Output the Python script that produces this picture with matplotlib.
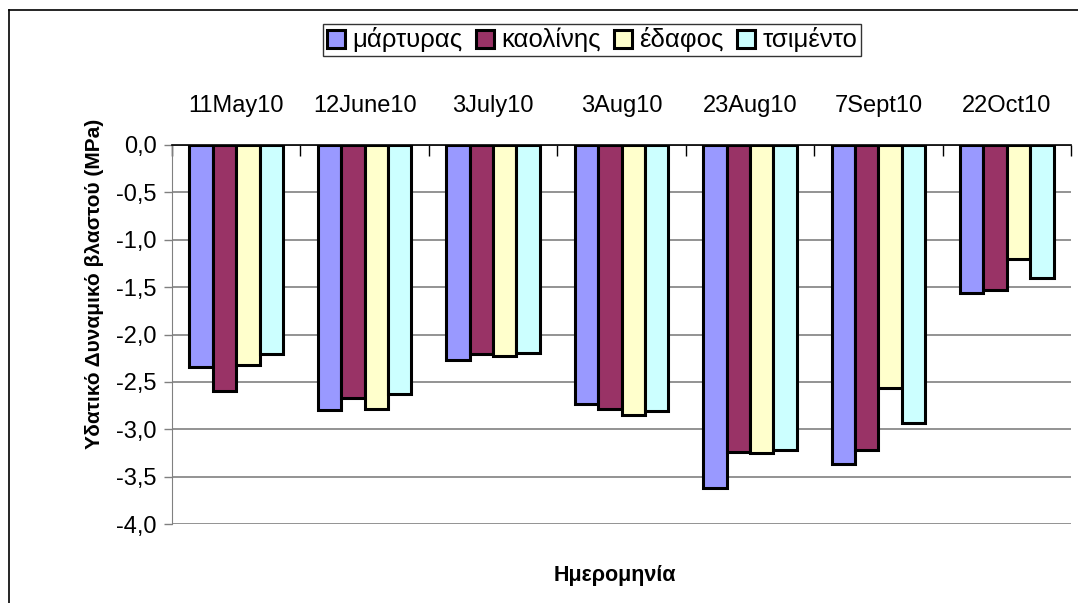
import matplotlib
matplotlib.use("Agg")

import matplotlib.pyplot as plt
import numpy as np
from matplotlib.lines import Line2D
from matplotlib.ticker import FuncFormatter, FixedLocator


# Chart data
DATES = ["11May10", "12June10", "3July10", "3Aug10", "23Aug10", "7Sept10", "22Oct10"]
SERIES = ["μάρτυρας", "καολίνης", "έδαφος", "τσιμέντο"]

martyras = [-2.34, -2.80, -2.27, -2.73, -3.62, -3.37, -1.56]
kaolinis = [-2.60, -2.67, -2.21, -2.79, -3.24, -3.22, -1.53]
edafos = [-2.32, -2.79, -2.23, -2.85, -3.25, -2.56, -1.20]
tsimento = [-2.21, -2.63, -2.20, -2.81, -3.22, -2.93, -1.40]

COLORS = ["#9999FF", "#993366", "#FFFFCC", "#CCFFFF"]

plt.rcParams["font.family"] = ["Liberation Sans", "DejaVu Sans"]


def comma_fmt(v, _pos):
    return f"{v:.1f}".replace(".", ",")


def main():
    fig = plt.figure(figsize=(10.78, 6.03), dpi=100)
    ax = fig.add_axes([172 / 1078, 1 - 524 / 603, 899 / 1078, 379 / 603])

    x = np.arange(len(DATES))
    bar_w = 0.182
    values = [martyras, kaolinis, edafos, tsimento]
    for i, (name, vals, col) in enumerate(zip(SERIES, values, COLORS)):
        offset = (i - 1.5) * bar_w
        ax.bar(x + offset, vals, width=bar_w, color=col, edgecolor="black",
               linewidth=2.2, label=name, zorder=3)

    ax.set_xlim(-0.5, len(DATES) - 0.5)
    ax.set_ylim(-4.0, 0.0)

    # y axis
    ax.set_yticks(np.arange(-4.0, 0.01, 0.5))
    ax.yaxis.set_major_formatter(FuncFormatter(comma_fmt))
    ax.tick_params(axis="y", direction="out", length=6, width=1,
                   color="#808080", labelsize=17, pad=5)
    ax.grid(axis="y", color="#808080", linewidth=1.2, zorder=0)

    # category axis sits at the top
    ax.xaxis.tick_top()
    ax.set_xticks(x)
    ax.set_xticklabels(DATES)
    ax.tick_params(axis="x", which="major", length=0, labelsize=17, pad=20)
    ax.xaxis.set_minor_locator(FixedLocator(np.arange(-0.5, len(DATES), 1.0)))
    ax.tick_params(axis="x", which="minor", direction="in", length=8,
                   width=1, color="black", top=True, bottom=False)

    ax.spines["top"].set_color("black")
    ax.spines["top"].set_linewidth(1.2)
    ax.spines["left"].set_color("#808080")
    ax.spines["right"].set_visible(False)
    ax.spines["bottom"].set_visible(False)

    ax.set_ylabel("Υδατικό Δυναμικό βλαστού (MPa)", fontsize=15,
                  fontweight="bold")
    ax.yaxis.set_label_coords(-68 / 899, 0.633)
    fig.text(615 / 1078, 1 - 575 / 603, "Ημερομηνία", fontsize=15.5,
             fontweight="bold", ha="center", va="center")

    leg = fig.legend(loc="center", bbox_to_anchor=(592 / 1078, 1 - 40 / 603),
                     ncol=4, fontsize=18.5, frameon=True, fancybox=False,
                     edgecolor="black", handlelength=0.7, handleheight=0.7,
                     handletextpad=0.3, columnspacing=0.5, borderpad=0.15)
    leg.get_frame().set_linewidth(1)

    # outer chart border
    fig.add_artist(Line2D([9 / 1078, 9 / 1078], [0, 1 - 10 / 603],
                          transform=fig.transFigure, color="black", lw=1.2))
    fig.add_artist(Line2D([9 / 1078, 1], [1 - 10 / 603, 1 - 10 / 603],
                          transform=fig.transFigure, color="black", lw=1.2))

    fig.savefig("out.png", dpi=100)
    plt.close(fig)


if __name__ == "__main__":
    main()
